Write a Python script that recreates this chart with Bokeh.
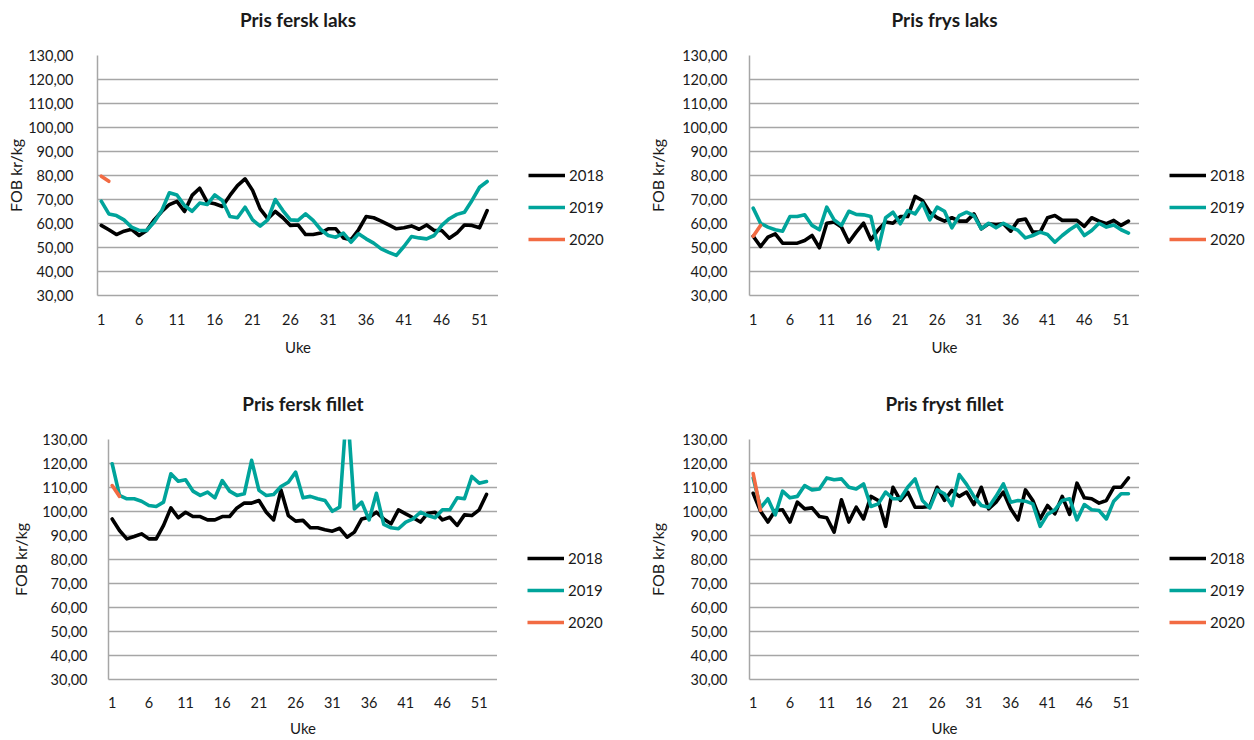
from bokeh.plotting import figure
from bokeh.models import FixedTicker, Legend, LegendItem, Range1d, Title
from bokeh.layouts import row, column
from bokeh.embed import file_html
from bokeh.resources import INLINE

# ---------------- data ----------------
weeks = list(range(1, 53))
week_ticks = [1, 6, 11, 16, 21, 26, 31, 36, 41, 46, 51]
y_ticks = [30, 40, 50, 60, 70, 80, 90, 100, 110, 120, 130]
y_tick_labels = ["30,00", "40,00", "50,00", "60,00", "70,00", "80,00",
                 "90,00", "100,00", "110,00", "120,00", "130,00"]
years = ["2018", "2019", "2020"]

fersk_laks_2018 = [59.2, 57.4, 55.4, 56.8, 57.6, 55.0, 57.1, 61.5, 65.0, 67.9,
                   69.2, 65.0, 71.7, 74.7, 68.9, 68.2, 67.1, 71.7, 75.8, 78.6,
                   73.8, 66.1, 62.0, 65.0, 62.4, 59.2, 59.4, 55.4, 55.4, 56.0,
                   57.8, 57.8, 54.0, 53.2, 57.4, 62.9, 62.4, 61.0, 59.4, 57.8,
                   58.2, 59.0, 57.6, 59.4, 57.1, 57.1, 53.9, 56.0, 59.4, 59.2,
                   58.2, 65.4]
fersk_laks_2019 = [69.3, 64.0, 63.3, 61.5, 58.5, 57.1, 57.1, 60.6, 65.4, 72.8,
                   71.9, 67.5, 65.1, 68.5, 67.9, 71.9, 69.6, 62.9, 62.4, 66.8,
                   61.5, 58.9, 61.5, 70.0, 65.4, 61.5, 61.3, 64.0, 61.3, 57.5,
                   55.0, 54.3, 56.0, 52.2, 55.7, 53.6, 51.8, 49.4, 48.0, 46.7,
                   50.4, 54.6, 54.0, 53.6, 55.0, 59.2, 62.0, 63.8, 64.7, 69.6,
                   75.1, 77.5]
fersk_laks_2020 = [79.7, 77.6]

frys_laks_2018 = [54.7, 50.4, 54.3, 55.7, 51.8, 51.8, 51.8, 52.9, 55.0, 49.9,
                  60.1, 60.6, 58.5, 52.2, 56.4, 60.1, 53.2, 57.4, 60.6, 60.1,
                  62.9, 62.9, 71.3, 69.6, 64.7, 62.4, 61.0, 62.4, 61.0, 61.0,
                  64.0, 57.8, 59.9, 59.6, 59.9, 56.8, 61.3, 61.9, 56.4, 56.4,
                  62.4, 63.3, 61.3, 61.3, 61.3, 58.8, 62.4, 61.0, 59.9, 61.3,
                  59.2, 61.0]
frys_laks_2019 = [66.4, 60.1, 58.5, 57.4, 56.8, 62.9, 62.9, 63.6, 59.2, 57.4,
                  66.8, 61.5, 59.2, 65.1, 63.8, 63.6, 62.9, 49.4, 62.4, 64.7,
                  59.9, 65.4, 64.0, 68.5, 61.5, 66.8, 65.1, 58.2, 63.3, 64.7,
                  63.3, 57.8, 60.1, 58.2, 60.1, 58.5, 57.1, 54.0, 55.0, 56.4,
                  55.4, 52.2, 55.0, 57.4, 59.4, 55.0, 57.1, 60.1, 58.5, 59.4,
                  57.4, 56.0]
frys_laks_2020 = [54.7, 59.2]

fersk_fillet_2018 = [96.9, 92.1, 88.6, 89.6, 90.7, 88.6, 88.6, 94.2, 101.5, 97.4,
                     99.7, 97.9, 97.9, 96.5, 96.5, 97.9, 97.9, 101.5, 103.5, 103.5,
                     104.6, 99.7, 96.5, 109.0, 98.3, 96.0, 96.3, 93.2, 93.2, 92.4,
                     91.8, 93.0, 89.3, 91.4, 96.9, 97.6, 99.7, 96.9, 94.9, 100.7,
                     99.0, 97.4, 95.6, 99.3, 99.7, 96.5, 97.6, 94.2, 98.6, 98.3,
                     100.7, 107.1]
fersk_fillet_2019 = [119.9, 106.7, 105.3, 105.3, 104.3, 102.5, 102.1, 103.9, 115.7, 112.6,
                     113.2, 108.5, 106.7, 108.1, 105.7, 112.9, 108.5, 106.7, 107.4, 121.3,
                     108.8, 106.7, 107.1, 110.4, 112.2, 116.4, 105.7, 106.3, 105.3, 104.6,
                     100.1, 101.8, 145.0, 101.1, 103.9, 96.5, 107.6, 94.6, 93.2, 92.8,
                     95.6, 96.9, 99.7, 98.3, 97.4, 100.7, 100.7, 105.7, 105.3, 114.6,
                     111.8, 112.5]
fersk_fillet_2020 = [110.8, 106.3]

fryst_fillet_2018 = [107.6, 100.1, 95.6, 100.4, 100.7, 95.6, 103.9, 101.1, 101.5, 97.9,
                     97.4, 91.4, 104.9, 95.6, 101.8, 96.9, 106.3, 104.6, 93.8, 110.1,
                     104.6, 108.1, 101.8, 101.8, 102.1, 110.1, 104.6, 108.8, 106.3, 108.1,
                     102.9, 110.1, 101.1, 103.9, 108.1, 101.1, 96.5, 109.0, 104.6, 96.9,
                     102.5, 99.0, 106.3, 98.8, 111.8, 105.7, 105.3, 103.5, 104.6, 110.1,
                     110.1, 114.0]
fryst_fillet_2019 = [114.0, 101.5, 105.3, 98.6, 108.5, 105.7, 106.3, 110.8, 109.0, 109.4,
                     114.0, 113.2, 113.6, 110.1, 109.4, 111.5, 102.1, 103.2, 108.1, 105.3,
                     105.3, 110.1, 113.6, 104.6, 101.5, 109.0, 107.4, 102.5, 115.4, 111.3,
                     106.3, 102.5, 101.8, 106.3, 111.5, 103.9, 104.6, 104.3, 103.2, 93.8,
                     98.8, 100.7, 104.6, 105.3, 96.5, 102.9, 100.7, 100.4, 96.9, 104.3,
                     107.4, 107.4]
fryst_fillet_2020 = [115.8, 100.5]

# ---------------- styling ----------------
FONT = "Lato"
TEXT = "#1a1a1a"
GRID = "#A6A6A6"
COLORS = ["#000000", "#00A49B", "#F26B43"]
LW = 3.6
NAN = float("nan")


def make_chart(title, series, width, height, bl, bt, bb,
               ylab_standoff, ytick_standoff, xtick_standoff, xlab_standoff):
    p = figure(width=width, height=height, title=None,
               x_range=Range1d(0.5, 53.5), y_range=Range1d(30, 130),
               output_backend="svg", toolbar_location=None,
               min_border_left=bl, min_border_right=0,
               min_border_top=bt, min_border_bottom=bb)
    # spacer (closest to the frame) then the real title above it
    p.add_layout(Title(text=" ", text_font_size="10px", standoff=12), "above")
    p.add_layout(Title(text=title, align="center", text_font=FONT,
                       text_font_size="19px", text_font_style="bold",
                       text_color=TEXT, standoff=0), "above")
    p.outline_line_color = None
    p.background_fill_color = "white"
    p.border_fill_color = "white"

    for vals, col in zip(series, COLORS):
        p.line(weeks[:len(vals)], vals, line_color=col, line_width=LW,
               line_join="round", line_cap="round")

    p.xaxis.ticker = FixedTicker(ticks=week_ticks)
    p.yaxis.ticker = FixedTicker(ticks=y_ticks)
    p.yaxis.major_label_overrides = {t: s for t, s in zip(y_ticks, y_tick_labels)}
    for ax in (p.xaxis[0], p.yaxis[0]):
        ax.axis_line_color = GRID
        ax.axis_line_width = 1.5
        ax.major_tick_line_color = None
        ax.minor_tick_line_color = None
        ax.major_tick_out = 0
        ax.major_tick_in = 0
        ax.major_label_text_font = FONT
        ax.major_label_text_font_size = "14.5px"
        ax.major_label_text_color = TEXT
        ax.axis_label_text_font = FONT
        ax.axis_label_text_font_size = "15px"
        ax.axis_label_text_font_style = "normal"
        ax.axis_label_text_color = TEXT
    p.yaxis.axis_label = "FOB kr/kg"
    p.yaxis.axis_label_text_font_size = "16px"
    p.xaxis.axis_label = "Uke"
    p.yaxis.major_label_standoff = ytick_standoff
    p.yaxis.axis_label_standoff = ylab_standoff
    p.xaxis.major_label_standoff = xtick_standoff
    p.xaxis.axis_label_standoff = xlab_standoff

    p.xgrid.visible = False
    p.ygrid.grid_line_color = GRID
    p.ygrid.grid_line_width = 1.5
    return p


def make_legend(width, height, leg_y):
    lf = figure(width=width, height=height, x_axis_type=None, y_axis_type=None,
                x_range=Range1d(0, 1), y_range=Range1d(0, 1),
                output_backend="svg", toolbar_location=None, min_border=0)
    lf.outline_line_color = None
    lf.grid.visible = False
    # legend proxies: no visible points, only their style is used by the legend
    rends = [lf.line(x=[NAN, NAN], y=[NAN, NAN], line_color=col, line_width=LW)
             for col in COLORS]
    legend = Legend(items=[LegendItem(label=yr, renderers=[r])
                           for yr, r in zip(years, rends)],
                    location=(30, leg_y), orientation="vertical",
                    glyph_width=37, glyph_height=20, label_height=20,
                    label_width=30, spacing=12, padding=0, margin=0,
                    label_standoff=4, border_line_color=None,
                    background_fill_alpha=0,
                    label_text_font=FONT, label_text_font_size="15px",
                    label_text_color=TEXT)
    lf.add_layout(legend)
    return lf


p1 = make_chart("Pris fersk laks",
                [fersk_laks_2018, fersk_laks_2019, fersk_laks_2020],
                498, 370, 97, 55, 75, 0, 24, 18, 10)
l1 = make_legend(145, 370, 46)
p2 = make_chart("Pris frys laks",
                [frys_laks_2018, frys_laks_2019, frys_laks_2020],
                496, 370, 106, 55, 75, 12, 22, 18, 10)
l2 = make_legend(115, 370, 46)
p3 = make_chart("Pris fersk fillet",
                [fersk_fillet_2018, fersk_fillet_2019, fersk_fillet_2020],
                497, 370, 108, 69, 61, 9, 21, 17, 8)
l3 = make_legend(146, 370, 47)
p4 = make_chart("Pris fryst fillet",
                [fryst_fillet_2018, fryst_fillet_2019, fryst_fillet_2020],
                496, 370, 106, 69, 61, 12, 22, 17, 8)
l4 = make_legend(115, 370, 47)

layout = column(row(p1, l1, p2, l2), row(p3, l3, p4, l4))

open("out.html", "w").write(file_html(layout, INLINE))
